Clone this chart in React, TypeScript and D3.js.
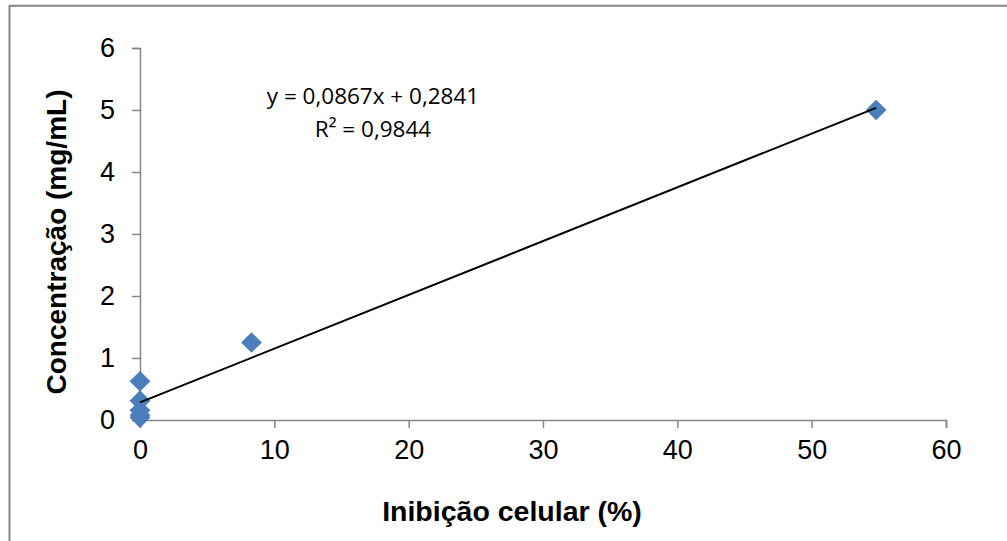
import { useEffect, useRef } from 'react';
import * as d3 from 'd3';

// Inhibition (%) vs concentration (mg/mL)
const inhibition = [0, 0, 0, 0, 0, 8.3, 54.8];
const concentration = [0.039, 0.078, 0.156, 0.3125, 0.625, 1.25, 5];
const xTicks = [0, 10, 20, 30, 40, 50, 60];
const yTicks = [0, 1, 2, 3, 4, 5, 6];
const slope = 0.0867;
const intercept = 0.2841;
const equationText = 'y = 0,0867x + 0,2841';
const r2Text = 'R² = 0,9844';

const App = () => {
  const svgRef = useRef<SVGSVGElement>(null);

  useEffect(() => {
    const svg = d3.select(svgRef.current);
    svg.selectAll('*').remove();

    const plot = { left: 140, right: 946, top: 48, bottom: 420 };
    const axisColor = '#868686';
    const font = 'Arial, "Liberation Sans", sans-serif';

    // outer chart border (right and bottom edges fall outside the picture)
    svg
      .append('rect')
      .attr('x', 9.5)
      .attr('y', 5.8)
      .attr('width', 1010)
      .attr('height', 560)
      .attr('fill', '#fff')
      .attr('stroke', axisColor)
      .attr('stroke-width', 2);

    const x = d3.scaleLinear().domain([0, 60]).range([plot.left, plot.right]);
    const y = d3.scaleLinear().domain([0, 6]).range([plot.bottom, plot.top]);

    // y axis
    const yAxis = svg
      .append('g')
      .attr('transform', `translate(${plot.left},0)`)
      .call(d3.axisLeft(y).tickValues(yTicks).tickSize(8).tickPadding(17).tickFormat(d3.format('d')));
    yAxis.select('.domain').attr('stroke', axisColor).attr('stroke-width', 1.5);
    yAxis.selectAll('.tick line').attr('stroke', axisColor).attr('stroke-width', 1.5);
    yAxis
      .selectAll('.tick text')
      .attr('font-family', font)
      .attr('font-size', 27)
      .attr('fill', '#000');

    // x axis
    const xAxis = svg
      .append('g')
      .attr('transform', `translate(0,${plot.bottom})`)
      .call(d3.axisBottom(x).tickValues(xTicks).tickSize(8).tickPadding(12).tickFormat(d3.format('d')));
    xAxis.select('.domain').attr('stroke', axisColor).attr('stroke-width', 1.5);
    xAxis.selectAll('.tick line').attr('stroke', axisColor).attr('stroke-width', 1.5);
    xAxis
      .selectAll('.tick text')
      .attr('font-family', font)
      .attr('font-size', 27)
      .attr('fill', '#000');

    // points
    const points = inhibition.map((v, i) => ({ x: v, y: concentration[i] }));
    svg
      .append('g')
      .selectAll('path')
      .data(points)
      .join('path')
      .attr('transform', (d) => `translate(${x(d.x)},${y(d.y)}) rotate(45)`)
      .attr('d', d3.symbol(d3.symbolSquare, 215)())
      .attr('fill', '#4a7ebb');

    // trendline
    const xMin = d3.min(inhibition) as number;
    const xMax = d3.max(inhibition) as number;
    svg
      .append('line')
      .attr('x1', x(xMin))
      .attr('y1', y(slope * xMin + intercept))
      .attr('x2', x(xMax))
      .attr('y2', y(slope * xMax + intercept))
      .attr('stroke', '#000')
      .attr('stroke-width', 2);

    // equation
    svg
      .append('text')
      .attr('x', 373)
      .attr('y', 104)
      .attr('text-anchor', 'middle')
      .attr('font-family', '"Open Sans", sans-serif')
      .attr('font-size', 22.5)
      .attr('fill', '#000')
      .text(equationText);
    svg
      .append('text')
      .attr('x', 373)
      .attr('y', 137)
      .attr('text-anchor', 'middle')
      .attr('font-family', '"Open Sans", sans-serif')
      .attr('font-size', 22.5)
      .attr('fill', '#000')
      .text(r2Text);

    // axis titles
    svg
      .append('text')
      .attr('x', 512)
      .attr('y', 521)
      .attr('text-anchor', 'middle')
      .attr('font-family', font)
      .attr('font-size', 28.5)
      .attr('font-weight', 'bold')
      .attr('fill', '#000')
      .text('Inibição celular (%)');

    svg
      .append('text')
      .attr('transform', `translate(66,242) rotate(-90)`)
      .attr('text-anchor', 'middle')
      .attr('font-family', font)
      .attr('font-size', 28)
      .attr('font-weight', 'bold')
      .attr('fill', '#000')
      .text('Concentração (mg/mL)');
  }, []);

  return (
    <svg
      ref={svgRef}
      width={1007}
      height={541}
      style={{ position: 'absolute', left: 0, top: 0, background: '#fff' }}
    />
  );
};

export default App;
